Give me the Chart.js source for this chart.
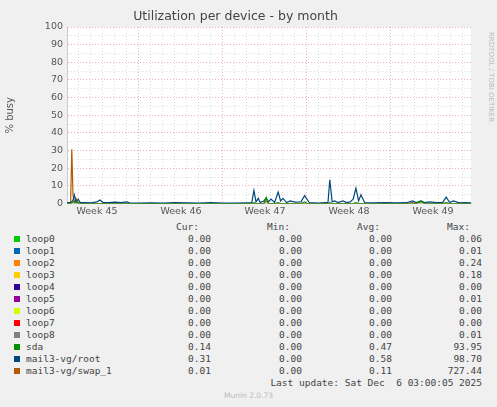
<!DOCTYPE html>
<html><head><meta charset="utf-8">
<script src="https://cdn.jsdelivr.net/npm/chart.js@4/dist/chart.umd.min.js"></script>
<style>
body{margin:0;background:#f0f0f0;width:497px;height:407px;overflow:hidden;position:relative;font-family:"DejaVu Sans",sans-serif}
#c{position:absolute;left:0;top:0}
.t{position:absolute;font-family:"DejaVu Sans Mono",monospace;font-size:9.5px;color:#444;white-space:pre}
.r{text-align:right}
.sw{position:absolute;width:6px;height:6px}
</style></head><body>
<div style="position:absolute;left:0;top:0;width:497px;height:219px"><canvas id="c"></canvas></div>
<div id="leg"></div>
<script>
const weekLabels = ["Week 45","Week 46","Week 47","Week 48","Week 49"];
const times = [0,0.3,0.4,0.5,0.61,0.75,0.94,1.1,1.5,2,2.5,2.75,3,3.5,4,4.5,4.97,5.2,6,7,8,9,10,11,12,13,14,15,15.4,15.58,15.75,15.94,16.1,16.4,16.6,16.8,17,17.3,17.6,17.8,18,18.3,18.6,19,19.5,19.8,20,20.2,20.6,21,21.5,21.75,21.9,22.1,22.3,22.6,23,23.3,23.6,23.85,24.08,24.3,24.5,24.8,25.5,26.5,27.5,28.3,28.8,29.1,29.5,29.8,30.2,30.8,31.3,31.6,31.9,32.2,32.7,33.2,33.67];
const rootVals = [0.5,0.5,1,2,5,1,2.5,0.6,0.5,0.4,1,2,0.6,0.5,0.8,0.5,1,0.4,0.3,0.4,0.3,0.5,0.4,0.3,0.5,0.3,0.3,0.4,0.5,7.5,1,3,0.6,1.5,3,1,2.5,0.6,6.5,1.5,3,0.6,1.5,0.8,1,4.5,2.5,0.5,0.4,0.3,0.5,0.6,13.5,1,1.5,0.6,1.5,0.6,1,2.5,8.7,1.5,5,0.6,0.4,0.5,0.4,0.5,1.5,0.6,1.5,0.6,1,0.5,0.6,3.7,0.6,1.5,0.4,0.5,0.4];
const swapVals = [0,0.2,30.7,5,0.5,3,0.2,0,0,0,0,0,0,0,0,0,0,0,0,0,0,0,0,0,0,0,0,0,0,0,0,0,0,0,1.5,0,0,0,0,0,0,0,0,0,0,0,0,0,0,0,0,0,0,0,0,0,0,0,0,0,0,0,0,0,0,0,0,0,0.5,0,1,0,0,0,0,0,0,0,0,0,0];
const sdaVals = [0,0,0.5,1,1,0.5,0.5,0,0,0,0,0,0,0,0,0,0,0,0,0,0,0,0,0,0,0,0,0,0,0.5,0,0,0,0,3.5,0,0,0,0.5,0,0,0,0,0,0,1,0,0,0,0,0,0,0.5,0,0,0,0,0,0,0,0.5,0,0,0,0,0,0,0,0,0,1.5,0,0,0,0,0.5,0,0,0,0,0];
const seriesNames = ["loop0","loop1","loop2","loop3","loop4","loop5","loop6","loop7","loop8","sda","mail3-vg/root","mail3-vg/swap_1"];
const seriesColors = ["#00cc00","#0066b3","#ff8000","#ffcc00","#330099","#990099","#ccff00","#ff0000","#808080","#008f00","#00487d","#b35a00"];
const curVals = ["0.00","0.00","0.00","0.00","0.00","0.00","0.00","0.00","0.00","0.14","0.31","0.01"];
const minVals = ["0.00","0.00","0.00","0.00","0.00","0.00","0.00","0.00","0.00","0.00","0.00","0.00"];
const avgVals = ["0.00","0.00","0.00","0.00","0.00","0.00","0.00","0.00","0.00","0.47","0.58","0.11"];
const maxVals = ["0.06","0.01","0.24","0.18","0.00","0.01","0.00","0.00","0.01","93.95","98.70","727.44"];

const pts = v => times.map((t,i)=>({x:t,y:v[i]}));
const valsByName = {"sda":sdaVals,"mail3-vg/root":rootVals,"mail3-vg/swap_1":swapVals};
const datasets = seriesNames.map((n,i)=>({label:n,data:valsByName[n]?pts(valsByName[n]):[],borderColor:seriesColors[i],borderWidth:1.2,pointRadius:0,tension:0,fill:false}));
const bg={id:'bg',beforeDraw(c){const a=c.chartArea,x=c.ctx;x.save();x.fillStyle='#fff';x.fillRect(a.left,a.top,a.right-a.left,a.bottom-a.top);x.restore();},
 afterDraw(c){const x=c.ctx;x.save();x.translate(489,32);x.rotate(Math.PI/2);x.font='7px DejaVu Sans';x.fillStyle='#bbb';x.fillText('RRDTOOL / TOBI OETIKER',0,0);x.restore();}};
new Chart(document.getElementById('c'),{type:'line',data:{datasets},plugins:[bg],
options:{responsive:true,maintainAspectRatio:false,animation:false,
layout:{padding:{left:0,right:26,top:0,bottom:0}},
plugins:{legend:{display:false},tooltip:{enabled:false},
 title:{display:true,text:'Utilization per device - by month',color:'#444',font:{family:'DejaVu Sans',size:12.5,weight:'normal'},padding:{top:9,bottom:3}}},
scales:{
 x:{type:'linear',min:0,max:33.67,
  afterBuildTicks:s=>{const t=[];for(let d=0;d<=33.5;d+=0.5)t.push({value:d});s.ticks=t;},
  ticks:{autoSkip:false,maxRotation:0,color:'#555',font:{family:'DejaVu Sans',size:9.5},padding:2,
   callback:v=>{const k=[2.5,9.5,16.5,23.5,30.5].indexOf(v);return k>=0?weekLabels[k]:'';}},
  grid:{drawTicks:false,lineWidth:1,color:c=>{const v=c.tick.value;if(v%1!==0)return 'rgba(0,0,0,0)';if([6,13,20,27].includes(v))return 'rgba(230,120,120,0.6)';return 'rgba(200,200,200,0.6)';}},
  border:{dash:[1,2],color:'#ccc'}},
 y:{min:0,max:100,afterFit:s=>{s.width=67;},
  afterBuildTicks:s=>{const t=[];for(let d=0;d<=100;d+=5)t.push({value:d});s.ticks=t;},
  title:{display:true,text:'% busy',color:'#555',font:{family:'DejaVu Sans',size:10},padding:{top:4,bottom:4}},
  ticks:{autoSkip:false,color:'#555',font:{family:'DejaVu Sans',size:9.5},padding:4,callback:v=>v%10===0?v:''},
  grid:{drawTicks:false,color:c=>c.tick.value%10===0?'rgba(230,120,120,0.6)':'rgba(200,200,200,0.6)'},
  border:{dash:[1,2],color:'#ccc'}}}}});

const leg=document.getElementById('leg');
let h='';
const hdr=[["Cur:",199],["Min:",290],["Avg:",380],["Max:",470]];
hdr.forEach(([s,r])=>h+=`<div class="t r" style="top:221px;right:${497-r}px">${s}</div>`);
seriesNames.forEach((n,i)=>{const y=233+i*12;
 h+=`<div class="sw" style="left:14px;top:${y+3}px;background:${seriesColors[i]}"></div>`;
 h+=`<div class="t" style="left:26px;top:${y}px">${n}</div>`;
 [[curVals,211],[minVals,302],[avgVals,392],[maxVals,482]].forEach(([a,r])=>h+=`<div class="t r" style="top:${y}px;right:${497-r}px">${a[i]}</div>`);
});
h+=`<div class="t r" style="top:377px;right:15px">Last update: Sat Dec  6 03:00:05 2025</div>`;
h+=`<div style="position:absolute;top:391px;left:0;width:497px;text-align:center;font-size:7.5px;color:#bbb">Munin 2.0.73</div>`;
leg.innerHTML=h;
</script></body></html>
